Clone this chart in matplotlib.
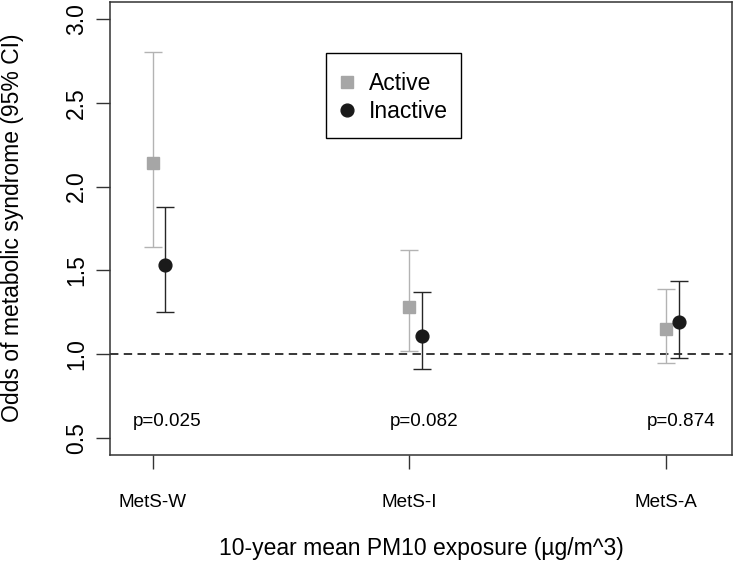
import matplotlib
matplotlib.use("Agg")
import matplotlib.pyplot as plt
from matplotlib.patches import Rectangle
import numpy as np

plt.rcParams['font.family'] = ['Liberation Sans', 'DejaVu Sans']

# odds ratios with 95% CI
groups = ["MetS-W", "MetS-I", "MetS-A"]
active_or = [2.14, 1.28, 1.15]
active_lo = [1.64, 1.02, 0.95]
active_hi = [2.80, 1.62, 1.39]
inactive_or = [1.53, 1.11, 1.19]
inactive_lo = [1.25, 0.91, 0.98]
inactive_hi = [1.88, 1.37, 1.44]
p_labels = ["p=0.025", "p=0.082", "p=0.874"]
y_ticks = [0.5, 1.0, 1.5, 2.0, 2.5, 3.0]

W, H = 737, 571
fig = plt.figure(figsize=(W / 100, H / 100), dpi=100)
# plot box in pixels: left 110, right 732, top 2, bottom 455
ax = fig.add_axes([110 / W, (H - 455) / H, 622 / W, 453 / H])

x = np.arange(1, len(groups) + 1)
dx = 0.05

act = np.array(active_or)
inact = np.array(inactive_or)
act_err = [act - np.array(active_lo), np.array(active_hi) - act]
inact_err = [inact - np.array(inactive_lo), np.array(inactive_hi) - inact]

ax.axhline(1.0, color='black', linestyle=(0, (5.5, 3.5)), linewidth=1.1, zorder=1)

ax.errorbar(x, act, yerr=act_err, fmt='s', color='#a6a6a6', ecolor='#b3b3b3',
            markersize=9.2, elinewidth=1.0, capsize=6.2, capthick=1.0,
            label='Active', zorder=3)
ax.errorbar(x + dx, inact, yerr=inact_err, fmt='o', color='#1a1a1a', ecolor='#262626',
            markersize=9.2, elinewidth=1.0, capsize=6.2, capthick=1.0,
            label='Inactive', zorder=4)

for xi, p in zip(x, p_labels):
    ax.text(xi + 0.058, 0.6, p, ha='center', va='center', fontsize=13.6)

ax.set_xlim(0.834, 3.258)
ax.set_ylim(0.4, 3.1)

ax.set_xticks(x)
ax.set_xticklabels(groups, fontsize=13.6)
ax.set_yticks(y_ticks)
ax.set_yticklabels(["%.1f" % v for v in y_ticks], fontsize=16.5, rotation=90, va='center')
ax.tick_params(axis='x', length=10, width=1.0, pad=18, colors='#333333', labelcolor='black')
ax.tick_params(axis='y', length=10, width=1.0, pad=6, colors='#333333', labelcolor='black')

for s in ax.spines.values():
    s.set_linewidth(1.1)
    s.set_color('#333333')

fig.text(421 / W, 1 - 548 / H, "10-year mean PM10 exposure (\u00b5g/m^3)",
         ha='center', va='center', fontsize=16.5)
fig.text(13 / W, 1 - 228 / H, "Odds of metabolic syndrome (95% CI)",
         ha='center', va='center', rotation=90, fontsize=16.5)

# legend: entries without frame, box drawn separately
handles, labels = ax.get_legend_handles_labels()
handles = [h[0] for h in handles]
leg = ax.legend(handles, labels, loc='upper left',
                bbox_to_anchor=(341 / W, 1 - 72 / H), bbox_transform=fig.transFigure,
                fontsize=16.5, frameon=False, handlelength=0.5, handletextpad=0.7,
                borderpad=0, labelspacing=0.22, borderaxespad=0)
fig.patches.append(Rectangle((326 / W, 1 - 138 / H), 135 / W, 85.3 / H,
                             transform=fig.transFigure, fill=False,
                             edgecolor='black', linewidth=1.0))

fig.savefig("out.png", dpi=100)
